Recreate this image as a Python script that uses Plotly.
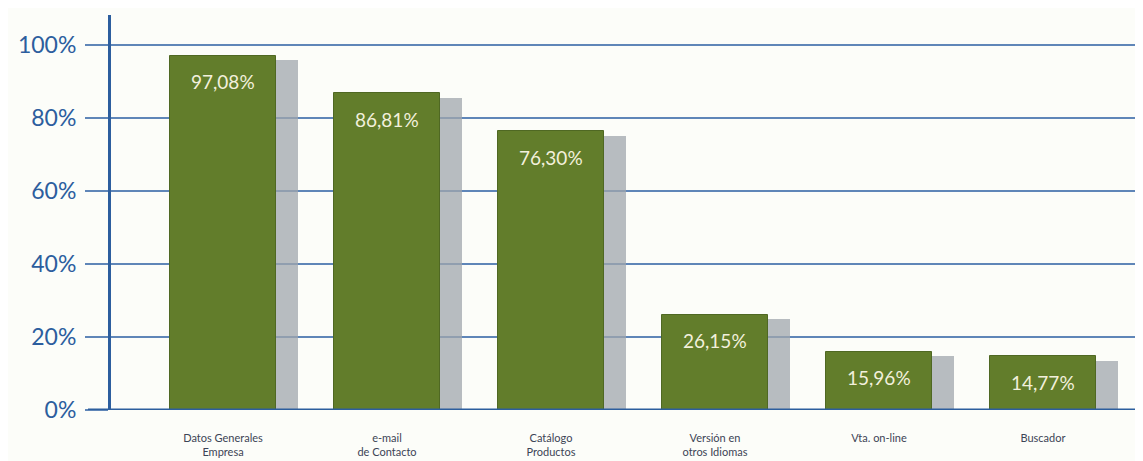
import plotly.graph_objects as go

categories = ["Datos Generales<br>Empresa", "e-mail<br>de Contacto", "Catálogo<br>Productos",
              "Versión en<br>otros Idiomas", "Vta. on-line", "Buscador"]
values = [97.08, 86.81, 76.30, 26.15, 15.96, 14.77]
value_labels = ["97,08%", "86,81%", "76,30%", "26,15%", "15,96%", "14,77%"]
y_ticks = [0, 20, 40, 60, 80, 100]
y_tick_labels = ["0%", "20%", "40%", "60%", "80%", "100%"]

GREEN = "#627d2b"
BLUE = "#2c5e9e"
GRID = "#5f86b8"
SHADOW_DROP = 1.3  # visual drop of the shadow (percentage units)

bar_w = 0.646
shadow_shift = 22 / 164

fig = go.Figure()
fig.add_trace(go.Bar(
    x=categories, y=[v - SHADOW_DROP for v in values],
    width=bar_w, offset=-bar_w / 2 + shadow_shift,
    marker=dict(color="rgba(160,165,172,0.75)", line=dict(width=0)),
    hoverinfo="skip", showlegend=False,
))
fig.add_trace(go.Bar(
    x=categories, y=values,
    width=bar_w, offset=-bar_w / 2,
    marker=dict(color=GREEN, line=dict(color="#4f6823", width=1)),
    showlegend=False,
))

for c, v, t in zip(categories, values, value_labels):
    fig.add_annotation(x=c, y=v, text=t, showarrow=False, yanchor="middle",
                       yshift=-26, font=dict(family="Lato, Open Sans, sans-serif",
                                             size=19, color="#f2f0dc"))

# bottom axis line extending to the left like the tick marks
fig.add_shape(type="line", xref="paper", yref="y", x0=-23 / 1032, x1=1, y0=0, y1=0,
              line=dict(color=BLUE, width=3))

fig.update_layout(
    width=1135, height=453,
    margin=dict(l=103, r=0, t=7, b=51),
    paper_bgcolor="#fcfdf9", plot_bgcolor="#fcfdf9",
    barmode="overlay", bargap=0,
    xaxis=dict(type="category", range=[-0.683, 5.61], showgrid=False, showline=False,
               ticks="", ticklabelstandoff=20, automargin=False,
               tickfont=dict(family="Lato, Open Sans, sans-serif", size=11, color="#3c4456")),
    yaxis=dict(range=[0, 108.2], tickvals=y_ticks, ticktext=y_tick_labels,
               showgrid=True, gridcolor=GRID, gridwidth=1.5, zeroline=False,
               showline=True, linecolor=BLUE, linewidth=3, automargin=False,
               ticks="outside", ticklen=23, tickcolor=GRID, tickwidth=1.5,
               ticklabelstandoff=4,
               tickfont=dict(family="Lato, Open Sans, sans-serif", size=23, color=BLUE)),
)

fig.write_html("out.html")
